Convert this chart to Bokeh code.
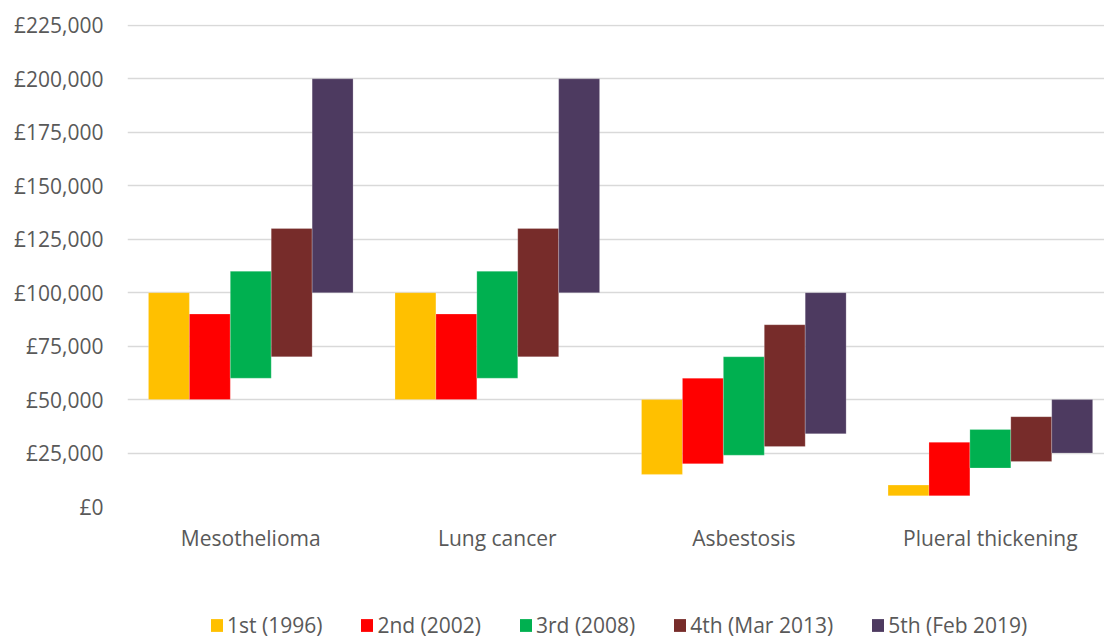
from bokeh.plotting import figure
from bokeh.models import (ColumnDataSource, Range1d, FixedTicker, Legend, LegendItem)
from bokeh.layouts import column
from bokeh.transform import dodge
from bokeh.embed import file_html
from bokeh.resources import INLINE

categories = ["Mesothelioma", "Lung cancer", "Asbestosis", "Plueral thickening"]
series = ["1st (1996)", "2nd (2002)", "3rd (2008)", "4th (Mar 2013)", "5th (Feb 2019)"]
colors = ["#FFC000", "#FF0000", "#00B050", "#772C2A", "#4D3A60"]

low_1st = [50000, 50000, 15000, 5000]
high_1st = [100000, 100000, 50000, 10000]
low_2nd = [50000, 50000, 20000, 5000]
high_2nd = [90000, 90000, 60000, 30000]
low_3rd = [60000, 60000, 24000, 18000]
high_3rd = [110000, 110000, 70000, 36000]
low_4th = [70000, 70000, 28000, 21000]
high_4th = [130000, 130000, 85000, 42000]
low_5th = [100000, 100000, 34000, 25000]
high_5th = [200000, 200000, 100000, 50000]

y_ticks = [0, 25000, 50000, 75000, 100000, 125000, 150000, 175000, 200000, 225000]
y_tick_labels = ["£0", "£25,000", "£50,000", "£75,000", "£100,000", "£125,000",
                 "£150,000", "£175,000", "£200,000", "£225,000"]

lows = [low_1st, low_2nd, low_3rd, low_4th, low_5th]
highs = [high_1st, high_2nd, high_3rd, high_4th, high_5th]

FONT = "Open Sans"
TEXT = "#595959"
FS = "21px"

cat_x = [i + 0.5 for i in range(len(categories))]

p = figure(width=1104, height=610, output_backend="svg", toolbar_location=None,
           x_range=Range1d(0, 3.963), y_range=Range1d(0, 225400),
           min_border_left=127, min_border_right=0, min_border_top=24,
           min_border_bottom=104)
p.outline_line_color = None
p.background_fill_color = "white"
p.border_fill_color = "white"

bw = 0.166
renderers = []
for j, (s, c) in enumerate(zip(series, colors)):
    src = ColumnDataSource(dict(x=cat_x, bottom=lows[j], top=highs[j]))
    r = p.vbar(x=dodge("x", (j - 2) * bw, range=p.x_range), width=bw,
               bottom="bottom", top="top", source=src,
               fill_color=c, line_color="white", line_alpha=0.35, line_width=0.6)
    renderers.append(r)

# axes
p.xaxis.ticker = FixedTicker(ticks=cat_x)
p.xaxis.major_label_overrides = {x: c for x, c in zip(cat_x, categories)}
p.xaxis.axis_line_color = None
p.xaxis.major_tick_line_color = None
p.xaxis.minor_tick_line_color = None
p.xaxis.major_label_standoff = 11
p.xaxis.major_label_text_font = FONT
p.xaxis.major_label_text_font_size = FS
p.xaxis.major_label_text_color = TEXT

p.yaxis.ticker = FixedTicker(ticks=y_ticks)
p.yaxis.major_label_overrides = {t: l for t, l in zip(y_ticks, y_tick_labels)}
p.yaxis.axis_line_color = None
p.yaxis.major_tick_line_color = None
p.yaxis.minor_tick_line_color = None
p.yaxis.major_label_standoff = 18
p.yaxis.major_label_text_font = FONT
p.yaxis.major_label_text_font_size = FS
p.yaxis.major_label_text_color = TEXT

p.xgrid.grid_line_color = None
p.ygrid.grid_line_color = "#D9D9D9"
p.ygrid.grid_line_width = 1.6

# legend strip (frame is aligned with the main figure's frame by the column layout)
lf = figure(width=1104, height=29, output_backend="svg", toolbar_location=None,
            x_range=Range1d(0, 1), y_range=Range1d(0, 1),
            min_border_left=127, min_border_right=0, min_border_top=0, min_border_bottom=0)
lf.axis.visible = False
lf.grid.grid_line_color = None
lf.outline_line_color = None
nan = float("nan")
leg_renderers = []
for c in colors:
    leg_renderers.append(lf.vbar(x=[nan], top=[nan], width=0.1, fill_color=c, line_color=None))

legend = Legend(items=[LegendItem(label=s, renderers=[r]) for s, r in zip(series, leg_renderers)],
                orientation="horizontal", location=(82, 0),
                glyph_width=15, glyph_height=16, label_standoff=3, spacing=37,
                label_text_font=FONT, label_text_font_size=FS,
                label_text_color=TEXT, border_line_color=None,
                background_fill_alpha=0, margin=0, padding=0)
lf.add_layout(legend, "center")

layout = column(p, lf, spacing=0)
open("out.html", "w").write(file_html(layout, INLINE))
